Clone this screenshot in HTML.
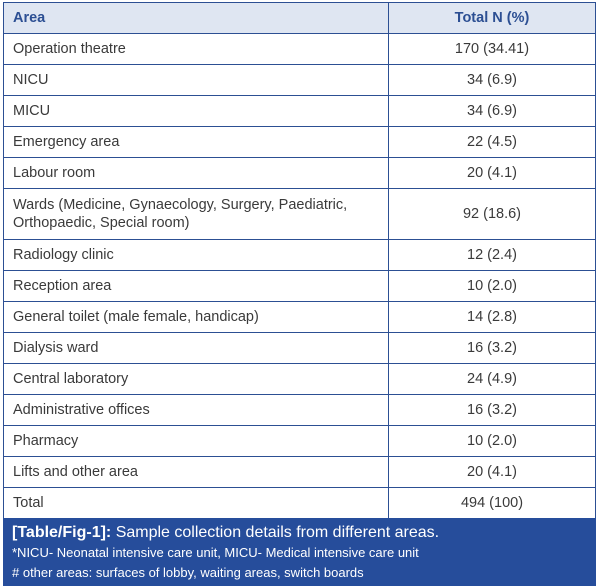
<!DOCTYPE html>
<html><head><style>
body{margin:0;width:600px;height:586px;background:#fff;font-family:"Liberation Sans",sans-serif;overflow:hidden}
.wrap{position:absolute;left:3px;top:2px;width:593px}
table{border-collapse:collapse;width:593px;font-size:14.5px;color:#3a3a3a}
td,th{border:1px solid #2c4f93;padding:0 9px;height:30px}
th{background:#dfe6f2;color:#2c4f93;text-align:left;font-weight:bold;height:30px}
td:nth-child(2),th:nth-child(2){text-align:center;width:188px}
tr.two td{height:50px;line-height:18px}
.cap{position:absolute;left:3px;top:518px;width:593px;height:68px;background:#264d9b;color:#fff;box-sizing:border-box;padding:4px 9px}
.cap .a{font-size:16px;line-height:21px}
.cap .b{font-size:13px;line-height:20px}
</style></head><body>
<div class="wrap"><table>
<tr><th>Area</th><th>Total N (%)</th></tr>
<tr><td>Operation theatre</td><td>170 (34.41)</td></tr>
<tr><td>NICU</td><td>34 (6.9)</td></tr>
<tr><td>MICU</td><td>34 (6.9)</td></tr>
<tr><td>Emergency area</td><td>22 (4.5)</td></tr>
<tr><td>Labour room</td><td>20 (4.1)</td></tr>
<tr class="two"><td>Wards (Medicine, Gynaecology, Surgery, Paediatric,<br>Orthopaedic, Special room)</td><td>92 (18.6)</td></tr>
<tr><td>Radiology clinic</td><td>12 (2.4)</td></tr>
<tr><td>Reception area</td><td>10 (2.0)</td></tr>
<tr><td>General toilet (male female, handicap)</td><td>14 (2.8)</td></tr>
<tr><td>Dialysis ward</td><td>16 (3.2)</td></tr>
<tr><td>Central laboratory</td><td>24 (4.9)</td></tr>
<tr><td>Administrative offices</td><td>16 (3.2)</td></tr>
<tr><td>Pharmacy</td><td>10 (2.0)</td></tr>
<tr><td>Lifts and other area</td><td>20 (4.1)</td></tr>
<tr><td>Total</td><td>494 (100)</td></tr>
</table></div>
<div class="cap"><div class="a"><b>[Table/Fig-1]:</b> Sample collection details from different areas.</div>
<div class="b">*NICU- Neonatal intensive care unit, MICU- Medical intensive care unit</div>
<div class="b"># other areas: surfaces of lobby, waiting areas, switch boards</div></div>
</body></html>
